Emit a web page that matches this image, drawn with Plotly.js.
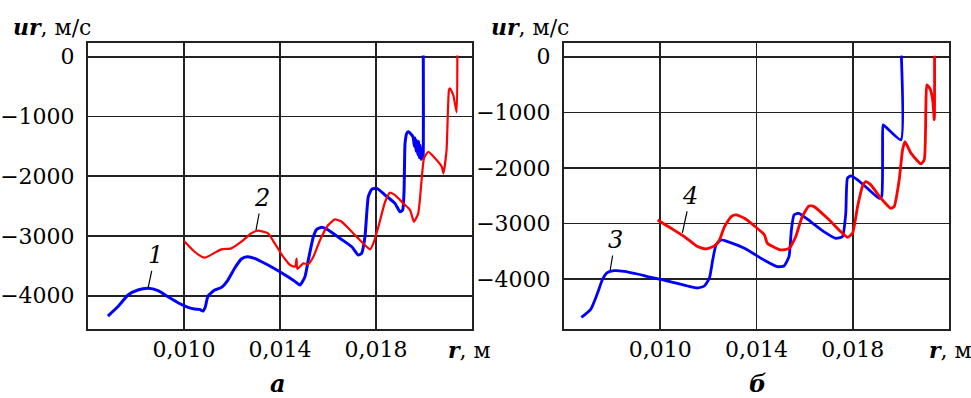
<!DOCTYPE html>
<html>
<head>
<meta charset="utf-8">
<script src="https://cdn.plot.ly/plotly-3.0.1.min.js"></script>
<style>html,body{margin:0;padding:0;background:#fff;}#chart{width:971px;height:398px;}</style>
</head>
<body>
<div id="chart"></div>
<script>
// Panel "а" curve 1 (blue)
const r1 = [0.00683,0.00725,0.00767,0.00808,0.0085,0.00892,0.00933,0.00975,0.01017,0.01044,0.01065,0.01079,0.01089,0.011,0.01128,0.01156,0.01183,0.01211,0.01239,0.01264,0.01294,0.0135,0.01406,0.01433,0.01462,0.01483,0.01504,0.01518,0.01539,0.01553,0.01574,0.01601,0.0165,0.01699,0.01726,0.0174,0.01754,0.01768,0.01782,0.01803,0.01838,0.01879,0.019,0.01911,0.01917,0.01921,0.01928,0.01935,0.01949,0.01955,0.01960,0.01963,0.01967,0.01970,0.01974,0.01977,0.01981,0.01984,0.01988,0.01992,0.01996,0.01997];
const u1 = [-4340,-4181,-3988,-3905,-3877,-3916,-4017,-4117,-4195,-4223,-4228,-4256,-4184,-4005,-3905,-3860,-3737,-3541,-3386,-3347,-3374,-3486,-3615,-3682,-3760,-3821,-3682,-3403,-3013,-2889,-2856,-2901,-3040,-3180,-3319,-3291,-3013,-2343,-2220,-2203,-2315,-2454,-2594,-2566,-2231,-1449,-1282,-1254,-1310,-1350,-1500,-1360,-1580,-1400,-1640,-1420,-1690,-1480,-1720,-1600,-1700,20];
// Panel "а" curve 2 (red)
const r2 = [0.010,0.01044,0.01086,0.01128,0.01156,0.01197,0.01239,0.0128,0.01308,0.0135,0.01378,0.01413,0.01433,0.01442,0.01463,0.01469,0.01472,0.01497,0.01518,0.01539,0.01567,0.01601,0.01629,0.01657,0.01692,0.01726,0.01761,0.01775,0.01789,0.0181,0.01838,0.01858,0.01879,0.01914,0.01942,0.01958,0.01976,0.0199,0.0200,0.02018,0.02046,0.02074,0.02081,0.02094,0.02104,0.02108,0.02122,0.02136,0.02139];
const u2 = [-3085,-3264,-3364,-3280,-3224,-3207,-3096,-2956,-2912,-2956,-3123,-3347,-3447,-3486,-3515,-3380,-3550,-3459,-3470,-3347,-3068,-2817,-2722,-2761,-2901,-3040,-3180,-3224,-3123,-2845,-2427,-2276,-2315,-2454,-2566,-2761,-2621,-2064,-1700,-1590,-1700,-1841,-1952,-1561,-557,-530,-641,-930,20];
// Panel "б" curve 3 (blue)
const r3 = [0.00672,0.00711,0.00739,0.0076,0.0078,0.00808,0.0085,0.00905,0.00961,0.01003,0.01058,0.01114,0.01155,0.01183,0.01204,0.01218,0.01232,0.01253,0.0128,0.0135,0.01431,0.01486,0.01514,0.01535,0.01545,0.01556,0.01576,0.01625,0.0168,0.01729,0.01757,0.01771,0.01778,0.01792,0.0182,0.01868,0.0191,0.0192,0.01924,0.01926,0.01938,0.0200,0.02002];
const u3 = [-4691,-4546,-4258,-4006,-3886,-3850,-3862,-3910,-3970,-4006,-4066,-4126,-4162,-4126,-3988,-3658,-3387,-3297,-3327,-3447,-3658,-3778,-3766,-3598,-3117,-2847,-2817,-2967,-3147,-3267,-3237,-2817,-2186,-2144,-2216,-2396,-2547,-2517,-1616,-1225,-1267,-1495,20];
// Panel "б" curve 4 (red)
const r4 = [0.00989,0.01045,0.011,0.01155,0.0119,0.01225,0.01246,0.01267,0.01295,0.01315,0.0135,0.01433,0.01445,0.015,0.01535,0.01563,0.0159,0.01618,0.01639,0.01695,0.0175,0.01778,0.01799,0.0182,0.0184,0.01854,0.01875,0.01917,0.01958,0.01972,0.01993,0.02007,0.02017,0.02042,0.02083,0.02097,0.02104,0.02108,0.02122,0.02132,0.02139,0.0214];
const u4 = [-2937,-3087,-3237,-3417,-3459,-3405,-3297,-3057,-2877,-2847,-2907,-3207,-3357,-3477,-3447,-3237,-2877,-2685,-2697,-2907,-3147,-3249,-3177,-2697,-2337,-2246,-2306,-2547,-2727,-2697,-2216,-1676,-1526,-1735,-1928,-1856,-895,-505,-582,-775,-1135,20];

const xTickVals = [0.010,0.014,0.018];
const xTickText = ['0,010','0,014','0,018'];
const yTickVals = [0,-1000,-2000,-3000,-4000];

const W = 971, H = 398;
const FAM = 'DejaVu Serif';
const tickFont = {family:FAM, size:22, color:'#000'};
function xa(d){return {domain:d, range:[0.006,0.022], tickvals:xTickVals, ticktext:xTickText,
  showgrid:true, gridcolor:'#222', gridwidth:1.6, zeroline:false, showline:true, mirror:true,
  linecolor:'#222', linewidth:2, ticks:'', tickfont:tickFont, ticklabelstandoff:0};}
function ya(d,rng,anchor){return {domain:d, range:rng, tickvals:yTickVals, anchor:anchor,
  showgrid:true, gridcolor:'#222', gridwidth:1.6, zeroline:false, showline:true, mirror:true,
  linecolor:'#222', linewidth:2, ticks:'', tickfont:tickFont, ticklabelstandoff:7};}

const yDom = [(H-329)/H, (H-43)/H];
const ls = {shape:'spline', smoothing:0.5};
const data = [
  {x:r1, y:u1, xaxis:'x', yaxis:'y', mode:'lines', line:Object.assign({color:'#0000ff', width:3}, ls)},
  {x:r2, y:u2, xaxis:'x', yaxis:'y', mode:'lines', line:Object.assign({color:'#ff0000', width:2.2}, ls)},
  {x:r3, y:u3, xaxis:'x2', yaxis:'y2', mode:'lines', line:Object.assign({color:'#0000ff', width:2.8}, ls)},
  {x:r4, y:u4, xaxis:'x2', yaxis:'y2', mode:'lines', line:Object.assign({color:'#ff0000', width:2.8}, ls)}
];
const labFont = {family:FAM, size:24, color:'#000', style:'italic'};
const titleFont = {family:FAM, size:22, color:'#000'};
function lab(t, xr, yr, x, y, ax, ay){return {text:t, xref:xr, yref:yr, x:x, y:y, ax:ax, ay:ay,
  showarrow:true, arrowhead:0, arrowwidth:1.2, arrowcolor:'#000', font:labFont, standoff:0};}
function ptxt(t, px, py, f, xa_){return {text:t, xref:'paper', yref:'paper', x:px/W, y:1-py/H,
  xanchor:xa_||'center', yanchor:'middle', showarrow:false, font:f||titleFont};}
const layout = {
  width:W, height:H, margin:{l:0,r:0,t:0,b:0}, paper_bgcolor:'#fff', plot_bgcolor:'#fff',
  showlegend:false,
  xaxis: xa([88/W, 472/W]),
  yaxis: ya(yDom, [-4557,230], 'x'),
  xaxis2: Object.assign(xa([564/W, 949/W]), {anchor:'y2'}),
  yaxis2: ya(yDom, [-4900,248], 'x2'),
  annotations: [
    lab('1','x','y',0.0085,-3877,7,-33),
    lab('2','x','y',0.0130,-2900,6,-32),
    lab('3','x2','y2',0.00792,-3838,5,-30),
    lab('4','x2','y2',0.01092,-3171,8,-37),
    ptxt('<b><i>ur</i></b>, м/с', 11, 27, null, 'left'),
    ptxt('<b><i>ur</i></b>, м/с', 489, 27, null, 'left'),
    ptxt('<b><i>r</i></b>, м', 446, 350, null, 'left'),
    ptxt('<b><i>r</i></b>, м', 927, 350, null, 'left'),
    ptxt('<b><i>а</i></b>', 278, 383, {family:FAM, size:24, color:'#000'}),
    ptxt('<b><i>б</i></b>', 757, 383, {family:FAM, size:24, color:'#000'})
  ]
};
Plotly.newPlot('chart', data, layout, {displayModeBar:false, staticPlot:true});
</script>
</body>
</html>
